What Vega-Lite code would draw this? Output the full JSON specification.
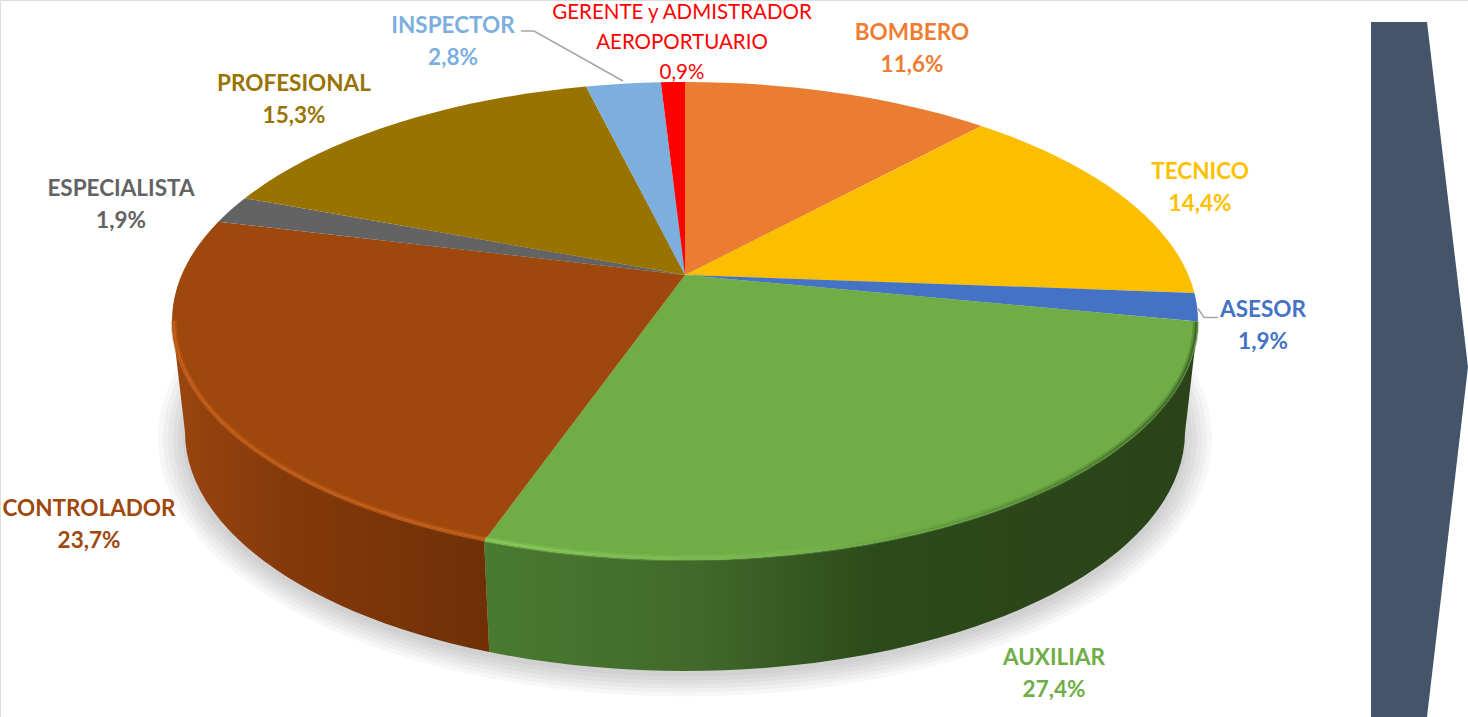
{
"$schema":"https://vega.github.io/schema/vega-lite/v6.json",
"width":1468,"height":717,"padding":0,"autosize":{"type":"none"},
"background":"#ffffff",
"data":{"values":[
{"categoria":"BOMBERO","pct":11.6},
{"categoria":"TECNICO","pct":14.4},
{"categoria":"ASESOR","pct":1.9},
{"categoria":"AUXILIAR","pct":27.4},
{"categoria":"CONTROLADOR","pct":23.7},
{"categoria":"ESPECIALISTA","pct":1.9},
{"categoria":"PROFESIONAL","pct":15.3},
{"categoria":"INSPECTOR","pct":2.8},
{"categoria":"GERENTE y ADMISTRADOR\nAEROPORTUARIO","pct":0.9}
]},
"transform":[
{"stack":"pct","groupby":[],"as":["s","e"]},
{"calculate":"(datum.s+datum.e)/2","as":"mid"},
{"calculate":"2*atan2(0.833*sin(PI*datum.s/99.9),cos(PI*datum.s/99.9))","as":"a0"},
{"calculate":"2*atan2(0.833*sin(PI*datum.e/99.9),cos(PI*datum.e/99.9))","as":"a1"},
{"calculate":"'M-49,-83.5L'+(-49+513*sin(datum.a0))+','+(-37.5-239*cos(datum.a0))+'A513,239 0 0 1 '+(-49+513*sin(datum.a1))+','+(-37.5-239*cos(datum.a1))+'Z'","as":"tapa"},
{"calculate":"max(datum.a0,PI/2)","as":"b0"},
{"calculate":"min(datum.a1,3*PI/2)","as":"b1"},
{"calculate":"'M'+(-49+513*sin(datum.b0))+','+(-37.5-239*cos(datum.b0))+'A513,239 0 0 1 '+(-49+513*sin(datum.b1))+','+(-37.5-239*cos(datum.b1))+'L'+(-49+500*sin(datum.b1))+','+(73.5-239*cos(datum.b1))+'A500,239 0 0 0 '+(-49+500*sin(datum.b0))+','+(73.5-239*cos(datum.b0))+'Z'","as":"pared"},
{"calculate":"'M'+(-49+511*sin(datum.b0))+','+(-37.5-237*cos(datum.b0))+'A511,237 0 0 1 '+(-49+511*sin(datum.b1))+','+(-37.5-237*cos(datum.b1))","as":"borde"},
{"calculate":"datum.categoria+'\\n'+replace(''+datum.pct,'.',',')+'%'","as":"etiqueta"}
],
"resolve":{"scale":{"shape":"independent"}},
"encoding":{},
"layer":[
{"data":{"values":[{"nivel":"a"},{"nivel":"b"},{"nivel":"c"},{"nivel":"d"},{"nivel":"e"},{"nivel":"f"}]},"transform":[],
 "mark":{"type":"point","filled":true,"size":4,"strokeWidth":0,"fill":"#000000","opacity":0.033},
 "encoding":{"shape":{"field":"nivel","type":"nominal","legend":null,"scale":{"domain":["a","b","c","d","e","f"],"range":[
 "M-551,80A502,238 0 1 1 453,80A502,238 0 1 1 -551,80Z",
 "M-556,80A507,242 0 1 1 458,80A507,242 0 1 1 -556,80Z",
 "M-561,80A512,246 0 1 1 463,80A512,246 0 1 1 -561,80Z",
 "M-566,80A517,250 0 1 1 468,80A517,250 0 1 1 -566,80Z",
 "M-571,80A522,254 0 1 1 473,80A522,254 0 1 1 -571,80Z",
 "M-576,80A527,258 0 1 1 478,80A527,258 0 1 1 -576,80Z"]}}}},
{"data":{"values":[{"elemento":"flecha"}]},"transform":[],
 "mark":{"type":"point","filled":true,"opacity":1,"size":4,"strokeWidth":0,"fill":"#44546A","shape":"M637,-336.5L693,-336.5L734,8.5L693,358.5L637,358.5Z"}},
{"transform":[{"filter":"datum.categoria=='AUXILIAR'"}],
 "mark":{"type":"point","filled":true,"opacity":1,"size":4,"strokeWidth":0,
 "fill":{"gradient":"linear","x1":0,"y1":0,"x2":1,"y2":0,"stops":[{"offset":0,"color":"#4A7A30"},{"offset":0.3,"color":"#41692A"},{"offset":0.55,"color":"#2C4A1A"},{"offset":1,"color":"#2A431A"}]}},
 "encoding":{"shape":{"field":"pared","type":"nominal","scale":null,"legend":null}}},
{"transform":[{"filter":"datum.categoria=='CONTROLADOR'"}],
 "mark":{"type":"point","filled":true,"opacity":1,"size":4,"strokeWidth":0,
 "fill":{"gradient":"linear","x1":0,"y1":0,"x2":1,"y2":0,"stops":[{"offset":0,"color":"#9A460E"},{"offset":0.35,"color":"#85390B"},{"offset":1,"color":"#6F3007"}]}},
 "encoding":{"shape":{"field":"pared","type":"nominal","scale":null,"legend":null}}},
{"mark":{"type":"point","filled":true,"opacity":1,"size":4,"strokeWidth":0},
 "encoding":{
  "shape":{"field":"tapa","type":"nominal","scale":null,"legend":null},
  "fill":{"field":"categoria","type":"nominal","legend":null,"scale":{"domain":["BOMBERO","TECNICO","ASESOR","AUXILIAR","CONTROLADOR","ESPECIALISTA","PROFESIONAL","INSPECTOR","GERENTE y ADMISTRADOR\nAEROPORTUARIO"],"range":["#EB7D33","#FBBF00","#4472C4","#70AD47","#9E480E","#636363","#997300","#7CAFDD","#FF0000"]}}}},
{"transform":[{"filter":"datum.categoria=='AUXILIAR'"}],
 "mark":{"type":"point","filled":false,"opacity":0.35,"size":4,"strokeWidth":6,
 "stroke":{"gradient":"linear","x1":0,"y1":0,"x2":1,"y2":0,"stops":[{"offset":0,"color":"#8AD05C"},{"offset":0.45,"color":"#7CBD50"},{"offset":0.75,"color":"#558A33"},{"offset":1,"color":"#3A6024"}]}},
 "encoding":{"shape":{"field":"borde","type":"nominal","scale":null,"legend":null}}},
{"transform":[{"filter":"datum.categoria=='AUXILIAR'"}],
 "mark":{"type":"point","filled":false,"opacity":0.8,"size":4,"strokeWidth":2,
 "stroke":{"gradient":"linear","x1":0,"y1":0,"x2":1,"y2":0,"stops":[{"offset":0,"color":"#8AD05C"},{"offset":0.4,"color":"#78B84E"},{"offset":0.75,"color":"#558A33"},{"offset":1,"color":"#3A6024"}]}},
 "encoding":{"shape":{"field":"borde","type":"nominal","scale":null,"legend":null}}},
{"transform":[{"filter":"datum.categoria=='CONTROLADOR'"}],
 "mark":{"type":"point","filled":false,"opacity":0.4,"size":4,"strokeWidth":6,"stroke":"#C55A11"},
 "encoding":{"shape":{"field":"borde","type":"nominal","scale":null,"legend":null}}},
{"transform":[{"filter":"datum.categoria=='CONTROLADOR'"}],
 "mark":{"type":"point","filled":false,"opacity":0.8,"size":4,"strokeWidth":2,"stroke":"#CC6420"},
 "encoding":{"shape":{"field":"borde","type":"nominal","scale":null,"legend":null}}},
{"transform":[{"filter":"datum.categoria=='INSPECTOR'||datum.categoria=='ASESOR'"}],
 "mark":{"type":"point","filled":false,"opacity":1,"size":4,"strokeWidth":1.5,"stroke":"#A6A6A6"},
 "encoding":{"shape":{"field":"categoria","type":"nominal","legend":null,"scale":{"domain":["INSPECTOR","ASESOR"],"range":["M-213,-327.5L-200,-327.5L-111,-277.5","M464,-50L470,-41L484,-41"]}}}},
{"transform":[{"filter":"indexof(datum.categoria,'GERENTE')<0"}],
 "mark":{"type":"text","font":"Lato","fontSize":22.5,"fontWeight":"bold","lineHeight":32,"lineBreak":"\n","baseline":"middle","align":"center"},
 "encoding":{
  "text":{"field":"etiqueta","type":"nominal"},
  "x":{"field":"mid","type":"quantitative","axis":null,"scale":{"zero":false,"nice":false,"domain":[5.8,18.8,26.95,41.6,67.15,79.95,88.55,97.6,99.45],"range":[912,1200,1263,1054,89,121,294,453,682]}},
  "y":{"field":"mid","type":"quantitative","axis":null,"scale":{"zero":false,"nice":false,"domain":[5.8,18.8,26.95,41.6,67.15,79.95,88.55,97.6,99.45],"range":[33,172,310,658,509,189,84,26,13]}},
  "color":{"field":"categoria","type":"nominal","legend":null,"scale":{"domain":["BOMBERO","TECNICO","ASESOR","AUXILIAR","CONTROLADOR","ESPECIALISTA","PROFESIONAL","INSPECTOR","GERENTE y ADMISTRADOR\nAEROPORTUARIO"],"range":["#ED7D31","#FFC000","#4472C4","#70AD47","#9E480E","#636363","#997300","#7CAFDD","#FF0000"]}}}},
{"transform":[{"filter":"indexof(datum.categoria,'GERENTE')>=0"}],
 "mark":{"type":"text","font":"Lato","fontSize":20.5,"fontWeight":"normal","lineHeight":30,"lineBreak":"\n","baseline":"middle","align":"center"},
 "encoding":{
  "text":{"field":"etiqueta","type":"nominal"},
  "x":{"field":"mid","type":"quantitative","axis":null},
  "y":{"field":"mid","type":"quantitative","axis":null},
  "color":{"field":"categoria","type":"nominal","legend":null}}}
]
}
